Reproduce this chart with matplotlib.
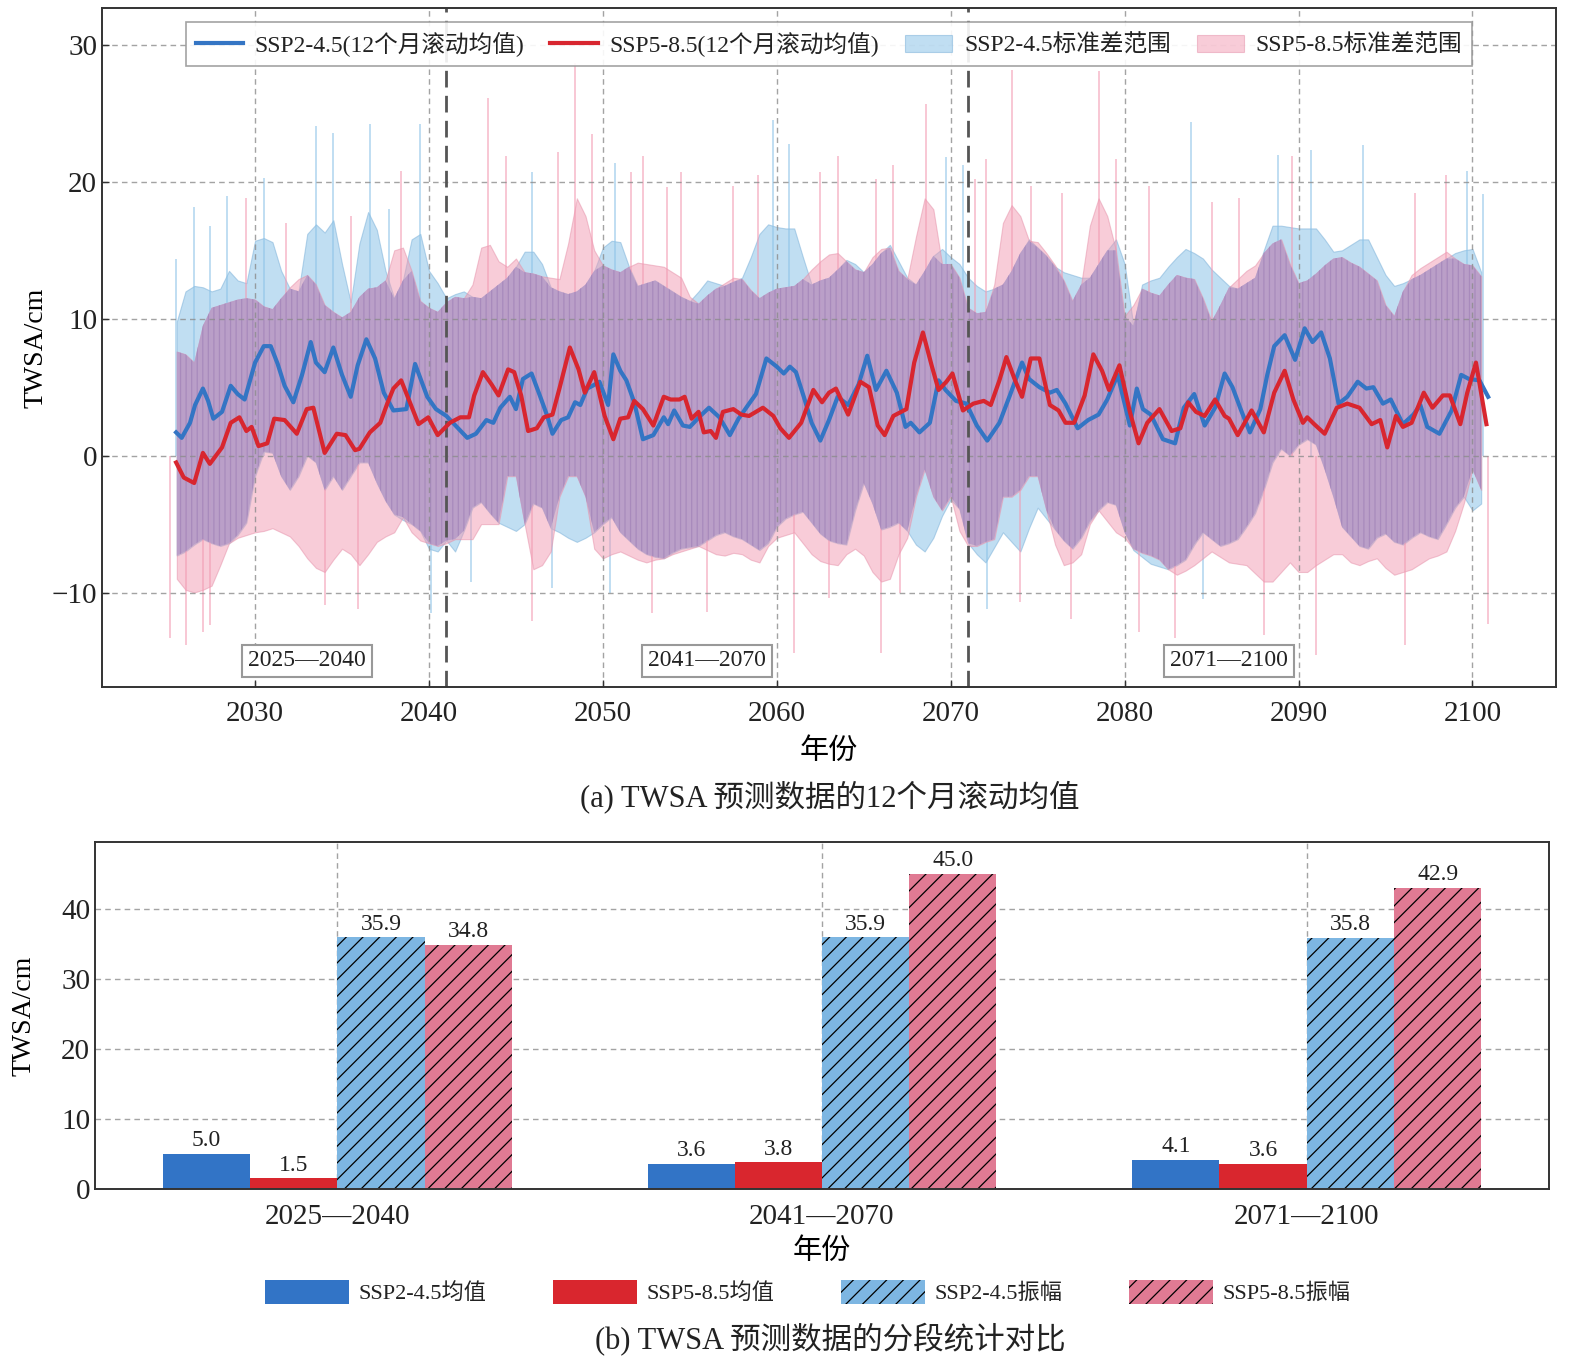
import numpy as np
import matplotlib.pyplot as plt
from matplotlib.lines import Line2D

plt.rcParams['font.family'] = ['Liberation Serif', 'Noto Sans CJK SC']
plt.rcParams['axes.unicode_minus'] = True
plt.rcParams['hatch.linewidth'] = 0.9
plt.rcParams['text.color'] = '#222222'
plt.rcParams['xtick.color'] = '#333333'
plt.rcParams['ytick.color'] = '#333333'
plt.rcParams['xtick.labelcolor'] = '#222222'
plt.rcParams['ytick.labelcolor'] = '#222222'

# 12-month rolling means (year, TWSA cm)
ssp245_x = [2025.46, 2025.78, 2026.26, 2026.55, 2027.0, 2027.3, 2027.6, 2028.1, 2028.6, 2029.0,
            2029.4, 2030.0, 2030.5, 2030.9, 2031.3, 2031.7, 2032.2, 2032.7, 2033.2, 2033.5,
            2034.0, 2034.5, 2035.0, 2035.5, 2035.9, 2036.4, 2036.9, 2037.4, 2037.95, 2038.7,
            2039.2, 2039.9, 2040.4, 2041.0, 2041.6, 2042.2, 2042.7, 2043.3, 2043.7, 2044.1,
            2044.65, 2045.0, 2045.4, 2045.9, 2046.4, 2046.8, 2047.1, 2047.6, 2048.0, 2048.4,
            2048.7, 2049.1, 2049.4, 2049.8, 2050.3, 2050.6, 2051.0, 2051.35, 2051.8, 2052.3,
            2052.9, 2053.5, 2053.75, 2054.1, 2054.6, 2055.0, 2055.6, 2056.1, 2056.7, 2057.3,
            2057.8, 2058.35, 2058.8, 2059.4, 2060.0, 2060.4, 2060.75, 2061.1, 2061.6, 2062.0,
            2062.5, 2063.0, 2063.5, 2064.1, 2064.7, 2065.2, 2065.7, 2066.3, 2066.9, 2067.4,
            2067.7, 2068.2, 2068.8, 2069.3, 2069.7, 2070.3, 2070.9, 2071.5, 2072.1, 2072.8,
            2073.4, 2074.1, 2074.5, 2075.1, 2075.7, 2076.1, 2076.6, 2077.3, 2077.9, 2078.5,
            2079.0, 2079.6, 2080.3, 2080.7, 2081.05, 2081.5, 2082.2, 2082.9, 2083.4, 2084.0,
            2084.6, 2085.2, 2085.75, 2086.2, 2086.7, 2087.2, 2087.8, 2088.2, 2088.6, 2089.2,
            2089.8, 2090.35, 2090.8, 2091.3, 2091.8, 2092.3, 2092.8, 2093.4, 2093.9, 2094.3,
            2094.85, 2095.3, 2096.0, 2096.6, 2097.0, 2097.4, 2098.1, 2098.8, 2099.35, 2099.8,
            2100.4, 2100.9]
ssp245_y = [1.7, 1.3, 2.4, 3.7, 4.9, 4.0, 2.7, 3.2, 5.1, 4.5,
            4.1, 6.8, 8.0, 8.0, 6.7, 5.1, 3.9, 5.9, 8.3, 6.8,
            6.1, 7.9, 5.9, 4.3, 6.6, 8.5, 7.1, 4.6, 3.3, 3.4,
            6.7, 4.3, 3.4, 2.9, 2.1, 1.3, 1.6, 2.6, 2.4, 3.5,
            4.3, 3.4, 5.6, 6.0, 4.3, 2.9, 1.6, 2.6, 2.8, 3.9,
            3.7, 4.9, 5.1, 5.4, 3.7, 7.4, 6.2, 5.5, 3.9, 1.2,
            1.5, 2.8, 2.3, 3.3, 2.2, 2.1, 2.9, 3.5, 2.8, 1.5,
            2.7, 3.7, 4.5, 7.1, 6.5, 6.0, 6.5, 6.1, 4.1, 2.4,
            1.1, 2.6, 4.3, 3.7, 5.2, 7.3, 4.8, 6.2, 4.6, 2.1,
            2.4, 1.7, 2.4, 5.5, 4.8, 4.0, 3.8, 2.2, 1.1, 2.4,
            4.4, 6.8, 5.6, 5.0, 4.6, 4.8, 3.8, 2.0, 2.6, 3.0,
            4.1, 5.9, 2.2, 4.9, 3.4, 3.0, 1.2, 0.9, 3.5, 4.5,
            2.2, 3.5, 6.0, 5.0, 3.3, 1.7, 3.4, 5.9, 8.0, 8.8,
            7.0, 9.3, 8.3, 9.0, 7.1, 3.8, 4.3, 5.4, 4.9, 5.0,
            3.8, 4.1, 2.3, 3.0, 3.7, 2.1, 1.6, 3.3, 5.9, 5.6,
            5.5, 4.3]

ssp585_x = [2025.46, 2025.9, 2026.5, 2027.0, 2027.4, 2028.1, 2028.6, 2029.1, 2029.5, 2029.8,
            2030.2, 2030.7, 2031.1, 2031.7, 2032.4, 2032.97, 2033.35, 2034.0, 2034.7, 2035.2,
            2035.75, 2036.0, 2036.6, 2037.2, 2037.6, 2037.95, 2038.4, 2038.9, 2039.4, 2039.96,
            2040.5, 2041.2, 2041.8, 2042.3, 2042.6, 2043.1, 2043.6, 2044.0, 2044.55, 2044.9,
            2045.3, 2045.7, 2046.2, 2046.6, 2047.1, 2047.5, 2048.1, 2048.6, 2048.96, 2049.5,
            2050.1, 2050.6, 2051.0, 2051.45, 2051.8, 2052.3, 2052.9, 2053.5, 2053.9, 2054.4,
            2054.7, 2055.1, 2055.5, 2055.8, 2056.2, 2056.5, 2056.9, 2057.5, 2057.96, 2058.4,
            2059.2, 2059.8, 2060.2, 2060.7, 2061.4, 2062.1, 2062.6, 2063.0, 2063.4, 2064.1,
            2064.8, 2065.3, 2065.8, 2066.2, 2066.7, 2067.45, 2067.9, 2068.4, 2068.9, 2069.3,
            2069.75, 2070.1, 2070.7, 2071.3, 2071.9, 2072.3, 2072.8, 2073.2, 2073.7, 2074.1,
            2074.6, 2075.1, 2075.7, 2076.2, 2076.6, 2077.1, 2077.7, 2078.2, 2078.7, 2079.1,
            2079.7, 2080.3, 2080.8, 2081.3, 2082.0, 2082.7, 2083.2, 2083.65, 2084.1, 2084.6,
            2085.2, 2085.75, 2086.0, 2086.5, 2087.3, 2088.0, 2088.6, 2089.2, 2089.7, 2090.25,
            2090.5, 2090.9, 2091.5, 2092.2, 2092.8, 2093.5, 2094.2, 2094.7, 2095.1, 2095.6,
            2096.0, 2096.5, 2097.2, 2097.7, 2098.3, 2098.7, 2099.3, 2099.7, 2100.2, 2100.8]
ssp585_y = [-0.5, -1.6, -2.0, 0.2, -0.6, 0.6, 2.4, 2.8, 1.8, 2.1,
            0.7, 0.9, 2.7, 2.6, 1.6, 3.4, 3.5, 0.2, 1.6, 1.5,
            0.4, 0.5, 1.7, 2.4, 3.8, 4.9, 5.5, 3.9, 2.3, 2.8,
            1.5, 2.4, 2.8, 2.8, 4.4, 6.1, 5.2, 4.4, 6.3, 6.1,
            4.4, 1.8, 2.0, 2.8, 3.0, 4.9, 7.9, 6.3, 4.6, 6.1,
            2.9, 1.2, 2.7, 2.8, 4.0, 3.4, 2.2, 4.3, 4.1, 4.1,
            4.3, 2.7, 3.2, 1.7, 1.8, 1.3, 3.2, 3.4, 3.0, 2.9,
            3.5, 2.9, 2.0, 1.3, 2.4, 4.8, 3.9, 4.6, 4.9, 3.0,
            5.4, 5.0, 2.2, 1.5, 2.9, 3.4, 6.8, 9.0, 6.6, 4.8,
            5.4, 6.0, 3.3, 3.8, 4.0, 3.7, 5.5, 7.2, 5.5, 4.3,
            7.1, 7.1, 3.7, 3.3, 2.4, 2.4, 4.4, 7.4, 6.2, 4.8,
            6.6, 3.2, 0.9, 2.4, 3.4, 1.8, 2.0, 3.9, 3.2, 2.9,
            4.1, 2.9, 2.7, 1.5, 3.3, 1.7, 4.6, 6.2, 4.1, 2.4,
            2.8, 2.3, 1.6, 3.5, 3.8, 3.5, 2.3, 2.6, 0.6, 2.9,
            2.1, 2.4, 4.6, 3.5, 4.4, 4.4, 2.3, 4.6, 6.8, 2.3]

# standard-deviation band edges, read every half year from 2025.5 to 2100.5
band_years = np.arange(2025.5, 2100.6, 0.5)
ssp245_upper = [9.8, 12.0, 12.4, 12.3, 12.0, 12.2, 13.5, 12.8, 12.6, 15.7,
                15.9, 15.6, 13.5, 12.2, 12.0, 16.2, 16.9, 16.3, 17.2, 14.0,
                11.2, 15.5, 17.8, 16.5, 13.5, 11.5, 12.8, 15.8, 16.2, 13.5,
                12.6, 11.5, 11.8, 12.0, 11.6, 11.5, 12.0, 12.5, 13.0, 13.8,
                14.9, 14.9, 14.0, 12.3, 12.0, 11.8, 12.0, 12.5, 13.5, 15.2,
                15.7, 15.6, 13.8, 12.4, 12.6, 12.8, 12.4, 12.0, 11.6, 11.3,
                12.0, 12.8, 12.6, 12.4, 12.7, 13.0, 14.5, 16.2, 16.9, 16.7,
                16.6, 16.6, 14.5, 12.5, 12.8, 13.0, 13.6, 14.3, 14.0, 13.4,
                14.0, 14.8, 15.4, 14.2, 13.0, 12.5, 13.5, 14.6, 15.1, 14.5,
                14.0, 13.0, 12.4, 12.0, 12.2, 12.5, 13.5, 14.8, 15.8, 15.2,
                14.6, 13.8, 13.4, 13.2, 13.0, 13.0, 14.0, 15.0, 15.8, 14.0,
                9.5, 12.5, 12.8, 13.0, 13.8, 14.5, 15.1, 14.8, 14.4, 13.6,
                13.0, 12.4, 12.2, 12.6, 13.0, 15.0, 16.8, 16.8, 16.7, 16.6,
                16.6, 16.6, 15.8, 14.9, 15.0, 15.4, 15.8, 15.8, 14.5, 13.2,
                12.4, 12.6, 12.9, 13.2, 13.6, 14.0, 14.4, 14.8, 15.0, 15.1,
                13.4]
ssp245_lower = [-7.3, -7.0, -6.5, -6.1, -6.4, -6.6, -6.4, -5.8, -4.9, -1.5,
                0.3, 0.2, -1.5, -2.5, -1.5, 0.0, -0.5, -2.5, -1.5, -2.5,
                -1.5, -0.5, -0.5, -2.0, -3.3, -4.3, -4.7, -5.0, -5.5, -6.8,
                -7.0, -6.2, -7.0, -5.5, -3.8, -3.4, -4.2, -4.9, -5.2, -5.5,
                -5.0, -3.5, -3.8, -5.3, -5.6, -6.0, -6.3, -6.0, -5.6, -5.0,
                -4.5, -5.6, -6.2, -6.8, -7.2, -7.4, -7.5, -7.1, -6.8, -6.7,
                -6.6, -6.2, -5.8, -5.6, -5.9, -6.1, -6.5, -6.9, -6.4, -5.2,
                -4.6, -4.3, -4.1, -4.9, -5.7, -6.2, -6.4, -6.5, -4.0, -2.0,
                -3.5, -5.4, -5.2, -4.9, -5.5, -6.5, -7.0, -6.0, -4.4, -3.2,
                -3.9, -6.4, -7.2, -7.8, -6.7, -5.6, -6.3, -7.0, -5.3, -3.8,
                -4.6, -5.4, -6.2, -6.8, -6.0, -4.8, -4.0, -3.4, -3.6, -5.6,
                -6.9, -7.4, -7.9, -8.1, -8.3, -8.0, -7.6, -6.5, -5.6, -6.1,
                -6.6, -6.4, -6.1, -5.2, -4.2, -2.5, -0.5, 0.5, 0.0, 0.8,
                1.2, 0.8, -1.0, -3.0, -5.2, -5.9, -6.6, -6.8, -6.0, -5.7,
                -6.3, -6.5, -6.0, -5.6, -5.9, -6.1, -5.0, -3.8, -3.0, -4.0,
                -3.5]
ssp585_upper = [7.6, 7.4, 6.8, 9.5, 10.8, 11.0, 11.2, 11.4, 11.5, 11.4,
                10.9, 10.7, 11.5, 12.3, 12.9, 13.2, 12.5, 11.0, 10.5, 10.1,
                10.5, 11.6, 12.2, 12.3, 12.8, 15.0, 15.2, 13.5, 11.3, 10.8,
                10.5, 11.2, 11.6, 11.5, 12.5, 15.2, 15.4, 14.2, 13.8, 14.4,
                13.4, 13.3, 13.1, 13.0, 12.9, 15.5, 18.8, 17.5, 15.0, 13.9,
                13.6, 13.4, 13.8, 14.1, 14.0, 13.9, 13.8, 13.4, 13.0, 11.6,
                11.1, 11.7, 12.2, 12.6, 13.0, 12.9, 12.1, 11.5, 11.9, 12.2,
                12.3, 12.4, 12.9, 13.6, 14.2, 14.7, 14.8, 14.2, 13.6, 13.4,
                14.5, 15.1, 15.2, 13.5, 12.9, 16.0, 18.8, 18.0, 14.0, 14.0,
                13.0, 10.8, 10.4, 10.5, 12.5, 17.0, 18.3, 17.5, 15.7, 15.6,
                14.8, 13.9, 12.8, 11.3, 12.5, 16.8, 18.8, 17.5, 15.0, 10.2,
                11.0, 12.2, 11.9, 11.7, 12.5, 13.2, 13.0, 12.9, 11.5, 9.8,
                11.0, 12.3, 12.9, 13.5, 13.9, 14.8, 15.5, 15.8, 14.0, 12.6,
                12.8, 13.3, 13.9, 14.4, 14.5, 14.1, 13.8, 13.3, 12.8, 11.0,
                10.2, 12.0, 13.2, 13.7, 14.1, 14.5, 14.9, 14.4, 14.0, 13.9,
                13.1]
ssp585_lower = [-9.0, -9.8, -10.0, -9.8, -9.5, -8.0, -6.4, -6.0, -5.8, -5.6,
                -5.5, -5.3, -5.6, -5.9, -6.6, -7.5, -8.2, -8.5, -7.6, -6.8,
                -7.2, -8.0, -7.2, -6.3, -5.9, -5.6, -4.5, -5.6, -6.2, -6.4,
                -6.6, -6.4, -6.1, -6.1, -6.1, -5.0, -5.0, -5.0, -1.5, -1.5,
                -5.0, -8.3, -8.0, -7.0, -3.0, -1.5, -1.5, -3.0, -6.8, -7.5,
                -7.2, -7.0, -7.3, -7.6, -7.8, -7.6, -7.5, -7.2, -7.0, -6.8,
                -6.6, -6.9, -7.2, -7.3, -7.1, -7.2, -7.6, -7.8, -6.6, -6.0,
                -5.8, -5.6, -6.4, -7.2, -7.7, -7.9, -8.0, -7.2, -6.8, -7.3,
                -8.5, -9.2, -9.0, -7.2, -6.0, -3.0, -1.0, -3.0, -4.0, -3.0,
                -5.5, -6.6, -6.6, -6.3, -6.1, -3.0, -3.0, -2.5, -1.5, -1.5,
                -4.0, -6.5, -8.0, -7.8, -7.2, -5.0, -4.0, -4.8, -5.6, -6.0,
                -6.8, -7.1, -7.3, -7.6, -8.3, -8.7, -8.4, -8.0, -7.5, -7.0,
                -7.4, -7.8, -7.9, -8.0, -8.6, -9.2, -9.2, -8.5, -7.8, -8.5,
                -8.5, -8.0, -7.6, -7.2, -7.2, -7.8, -8.0, -7.7, -7.5, -8.2,
                -8.7, -8.5, -8.3, -7.9, -7.5, -7.3, -7.0, -5.5, -3.5, -1.0,
                -2.5]

# single-month spikes of the bands (year, tip value)
ssp245_spike_x = [2025.45, 2026.5, 2027.4, 2028.4, 2030.5, 2033.5, 2034.5, 2036.6, 2037.7, 2039.5,
                  2045.9, 2050.7, 2059.8, 2060.7, 2069.7, 2070.7, 2083.8, 2088.8, 2090.7, 2093.7,
                  2099.7, 2100.6,
                  2040.1, 2042.4, 2047.1, 2050.4, 2072.1, 2084.5]
ssp245_spike_y = [14.4, 18.2, 16.8, 19.0, 20.3, 24.1, 23.6, 24.2, 18.0, 24.2,
                  20.7, 21.4, 24.5, 22.8, 21.8, 21.2, 24.4, 22.0, 22.3, 22.7,
                  20.8, 19.1,
                  -11.5, -9.2, -9.7, -10.0, -11.2, -10.5]
ssp585_spike_x = [2029.5, 2031.8, 2035.5, 2038.4, 2043.4, 2044.4, 2047.4, 2048.4, 2049.4, 2051.6,
                  2052.3, 2053.7, 2054.5, 2057.5, 2058.9, 2062.5, 2063.5, 2065.7, 2066.7, 2068.6,
                  2071.4, 2072.0, 2073.5, 2074.6, 2076.4, 2078.5, 2079.5, 2081.4, 2085.0, 2086.6,
                  2089.6, 2096.7, 2098.5,
                  2025.1, 2026.0, 2027.0, 2027.4, 2034.0, 2035.9, 2045.9, 2052.8, 2056.0, 2061.0,
                  2063.0, 2066.0, 2067.1, 2074.0, 2076.9, 2080.8, 2082.9, 2088.0, 2091.0, 2096.1,
                  2100.9]
ssp585_spike_y = [18.8, 17.0, 17.5, 20.8, 26.1, 21.9, 22.2, 28.7, 23.5, 20.7,
                  21.9, 19.6, 20.7, 19.7, 20.5, 20.7, 21.9, 20.2, 21.2, 25.7,
                  20.2, 21.7, 28.2, 19.7, 19.2, 28.1, 21.7, 19.7, 18.5, 18.8,
                  21.9, 19.2, 20.5,
                  -13.3, -13.8, -12.9, -12.4, -10.9, -11.2, -12.1, -11.5, -11.4, -14.4,
                  -10.4, -14.4, -10.0, -10.7, -11.9, -12.9, -13.3, -13.1, -14.6, -13.8,
                  -12.3]

periods = ['2025—2040', '2041—2070', '2071—2100']
period_starts = [2025, 2041, 2071]
period_ends = [2040, 2070, 2100]

mean_245 = [5.0, 3.6, 4.1]
mean_585 = [1.5, 3.8, 3.6]
amp_245 = [35.9, 35.9, 35.8]
amp_585 = [34.8, 45.0, 42.9]

blue_line = '#3475C4'
red_line = '#D8262F'
blue_band = '#8DC3E8'
pink_band = '#F29AB2'
purple = '#B79CC8'

fig = plt.figure(figsize=(15.72, 13.66), dpi=100)

# ---------- (a) rolling means ----------
ax1 = fig.add_axes([0.0649, 0.4971, 0.9249, 0.4970])
bu = np.array(ssp245_upper)
bl = np.array(ssp245_lower)
pu = np.array(ssp585_upper)
pl = np.array(ssp585_lower)

h_b = ax1.fill_between(band_years, bl, bu, color=blue_band, alpha=0.55, lw=0.8,
                       edgecolor='#7FB3DA', label='SSP2-4.5标准差范围', zorder=1)
h_p = ax1.fill_between(band_years, pl, pu, color=pink_band, alpha=0.5, lw=0.8,
                       edgecolor='#E58FA8', label='SSP5-8.5标准差范围', zorder=1.1)
ov_top = np.minimum(bu, pu)
ov_bot = np.maximum(bl, pl)
ax1.fill_between(band_years, ov_bot, ov_top, where=ov_top > ov_bot, interpolate=True,
                 facecolor=purple, edgecolor='#A688BB', hatch='|||', lw=0, alpha=0.9, zorder=1.2)

ax1.vlines(ssp245_spike_x, 0, ssp245_spike_y, colors=blue_band, lw=1.4, alpha=0.55, zorder=1.05)
ax1.vlines(ssp585_spike_x, 0, ssp585_spike_y, colors=pink_band, lw=1.4, alpha=0.55, zorder=1.15)

ax1.plot(ssp245_x, ssp245_y, color=blue_line, lw=3.0, zorder=3, solid_joinstyle='round')
ax1.plot(ssp585_x, ssp585_y, color=red_line, lw=3.0, zorder=3.1, solid_joinstyle='round')

for yr in period_starts[1:]:
    ax1.axvline(yr, color='#555555', lw=2.0, ls=(0, (6, 3)), zorder=2.5)

ax1.set_xlim(2021.2, 2104.8)
ax1.set_ylim(-16.9, 32.7)
ax1.set_xticks(range(2030, 2101, 10))
ax1.set_yticks([-10, 0, 10, 20, 30])
ax1.grid(True, ls=(0, (4, 3)), color='#8C8C8C', lw=1.0, alpha=0.8)
ax1.tick_params(labelsize=21, direction='in', length=5, width=1)
ax1.tick_params(axis='x', pad=10)
ax1.set_xlabel('年份', fontsize=21, labelpad=8)
ax1.set_ylabel('TWSA/cm', fontsize=20)
ax1.yaxis.set_label_coords(-0.037, 0.5)
for s in ax1.spines.values():
    s.set_color('#333333')
    s.set_linewidth(1.4)

for lab, a, b in zip(periods, period_starts, period_ends):
    ax1.text((a + b + 1) / 2, -15.0, lab, ha='center', va='center', fontsize=17,
             bbox=dict(boxstyle='square,pad=0.25', fc='white', ec='#999999', lw=1.5), zorder=4)

handles = [Line2D([0], [0], color=blue_line, lw=3), Line2D([0], [0], color=red_line, lw=3), h_b, h_p]
labels = ['SSP2-4.5(12个月滚动均值)', 'SSP5-8.5(12个月滚动均值)', 'SSP2-4.5标准差范围', 'SSP5-8.5标准差范围']
leg = ax1.legend(handles, labels, loc='upper center', ncol=4, fontsize=17, frameon=True,
                 fancybox=False, edgecolor='#999999', framealpha=0.9, columnspacing=1.1,
                 handletextpad=0.5, borderaxespad=0.6, handlelength=2.0)
leg.get_frame().set_linewidth(1.2)

fig.text(0.528, 0.4165, '(a) TWSA 预测数据的12个月滚动均值', ha='center', va='center', fontsize=22)

# ---------- (b) period statistics ----------
ax2 = fig.add_axes([0.0604, 0.1296, 0.9250, 0.2540])
x = np.arange(len(periods))
w = 0.18
series = [(mean_245, '#3274C6', None, 'SSP2-4.5均值'),
          (mean_585, '#D9262E', None, 'SSP5-8.5均值'),
          (amp_245, '#7DB6E2', '//', 'SSP2-4.5振幅'),
          (amp_585, '#E07A93', '//', 'SSP5-8.5振幅')]
for i, (vals, col, hat, lab) in enumerate(series):
    pos = x + (i - 1.5) * w
    if hat:
        ax2.bar(pos, vals, w, color=col, hatch=hat, edgecolor='black', lw=0, label=lab, zorder=2)
    else:
        ax2.bar(pos, vals, w, color=col, lw=0, label=lab, zorder=2)
    for p, v in zip(pos, vals):
        ax2.text(p, v + 0.4, f'{v:.1f}', ha='center', va='bottom', fontsize=17, zorder=3)

ax2.set_xlim(-0.5, 2.5)
ax2.set_ylim(0, 49.5)
ax2.set_xticks(x)
ax2.set_xticklabels(periods)
ax2.set_yticks([0, 10, 20, 30, 40])
ax2.set_axisbelow(True)
ax2.grid(True, ls=(0, (4, 3)), color='#8C8C8C', lw=1.0, alpha=0.8)
ax2.tick_params(labelsize=21, direction='in', length=0)
ax2.tick_params(axis='x', pad=11)
ax2.set_xlabel('年份', fontsize=21, labelpad=6)
ax2.set_ylabel('TWSA/cm', fontsize=20)
ax2.yaxis.set_label_coords(-0.040, 0.5)
for s in ax2.spines.values():
    s.set_color('#333333')
    s.set_linewidth(1.4)
ax2.legend(loc='center', bbox_to_anchor=(0.49, -0.297), ncol=4, fontsize=16, frameon=False,
           handlelength=3.8, handleheight=1.3, columnspacing=3.0, handletextpad=0.4)

fig.text(0.528, 0.019, '(b) TWSA 预测数据的分段统计对比', ha='center', va='center', fontsize=22)

fig.savefig('out.png', dpi=100)
